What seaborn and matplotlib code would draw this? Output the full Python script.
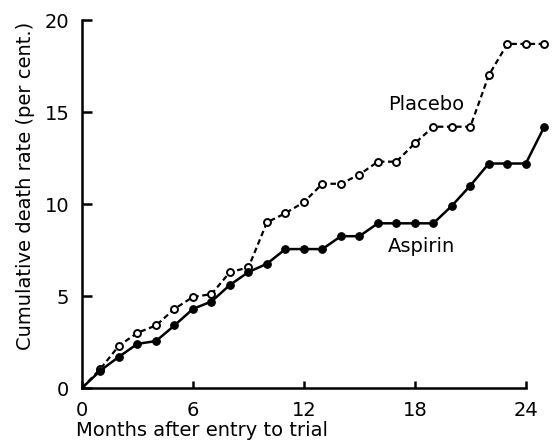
import numpy as np
import pandas as pd
import matplotlib
matplotlib.use("Agg")
import matplotlib.pyplot as plt
import seaborn as sns

# Months after entry to trial
months = list(range(0, 26))

# Cumulative death rate (per cent.)
aspirin = [0, 0.95, 1.7, 2.4, 2.55, 3.4, 4.3, 4.7, 5.6, 6.3, 6.75,
           7.55, 7.55, 7.55, 8.25, 8.25, 8.95, 8.95, 8.95, 8.95,
           9.9, 11.0, 12.2, 12.2, 12.2, 14.2]
placebo = [0, 1.05, 2.3, 3.0, 3.4, 4.3, 4.95, 5.1, 6.3, 6.55, 9.0,
           9.5, 10.1, 11.1, 11.1, 11.6, 12.3, 12.3, 13.3, 14.2,
           14.2, 14.2, 17.0, 18.7, 18.7, 18.7]

x_ticks = [0, 6, 12, 18, 24]
y_ticks = [0, 5, 10, 15, 20]

df = pd.DataFrame({"month": months, "Aspirin": aspirin, "Placebo": placebo})

sns.set_style("ticks")
plt.rcParams["font.family"] = ["DejaVu Sans"]
plt.rcParams["text.color"] = "black"
plt.rcParams["axes.labelcolor"] = "black"

fig = plt.figure(figsize=(5.52, 4.44), dpi=100)
ax = fig.add_axes([82 / 552, 56 / 444, 466 / 552, 368 / 444])

# markers start at month 1, the lines start at the origin
marks = list(range(1, 26))

sns.lineplot(data=df, x="month", y="Placebo", ax=ax, color="black",
             linewidth=1.6, linestyle=(0, (2.5, 1.6)), marker="o",
             markersize=5, markerfacecolor="white", markeredgecolor="black",
             markeredgewidth=1.4, markevery=marks)
sns.lineplot(data=df, x="month", y="Aspirin", ax=ax, color="black",
             linewidth=1.8, marker="o", markersize=5.5,
             markerfacecolor="black", markeredgecolor="black",
             markevery=marks)

ax.set_xlim(0, 25.2)
ax.set_ylim(0, 20)
ax.set_xticks(x_ticks)
ax.set_yticks(y_ticks)
ax.set_xticklabels([str(t) for t in x_ticks])
ax.set_yticklabels([str(t) for t in y_ticks])

for side in ["top", "right"]:
    ax.spines[side].set_visible(False)
for side in ["left", "bottom"]:
    ax.spines[side].set_linewidth(1.8)
    ax.spines[side].set_color("black")
ax.spines["bottom"].set_bounds(0, 24)
ax.spines["left"].set_bounds(0, 20)

ax.tick_params(axis="both", direction="in", width=1.8, labelsize=14,
               colors="black")
ax.tick_params(axis="y", length=7, pad=9)
ax.tick_params(axis="x", length=5, pad=9)

ax.set_xlabel("Months after entry to trial", fontsize=14)
ax.set_ylabel("Cumulative death rate (per cent.)", fontsize=14)
ax.xaxis.set_label_coords(-0.012, -0.09)
ax.xaxis.label.set_horizontalalignment("left")
ax.yaxis.set_label_coords(-0.10, 0.55)

ax.text(18.6, 15.4, "Placebo", fontsize=14, ha="center", va="center")
ax.text(18.35, 7.7, "Aspirin", fontsize=14, ha="center", va="center")

fig.savefig("out.png", dpi=100)
